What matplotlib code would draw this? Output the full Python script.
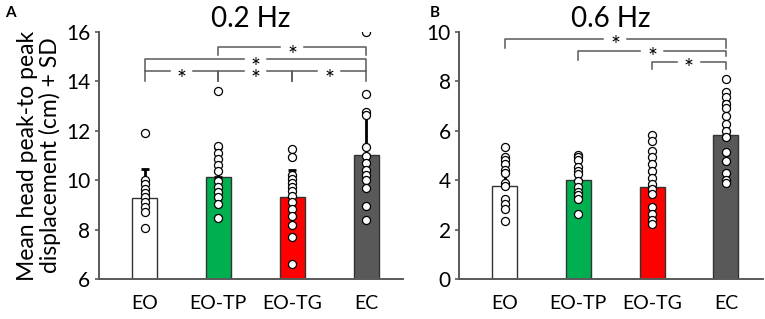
import matplotlib
matplotlib.use("Agg")
import matplotlib.pyplot as plt

plt.rcParams['font.family'] = ['Lato', 'DejaVu Sans']

groups = ["EO", "EO-TP", "EO-TG", "EC"]
colors = ["#FFFFFF", "#00B050", "#FF0000", "#595959"]

# 0.2 Hz
a_mean = [9.28, 10.14, 9.31, 11.02]
a_sd = [1.16, 1.15, 1.10, 1.60]
a_pts = [
    [11.92, 10.01, 9.85, 9.66, 9.49, 9.31, 9.13, 8.93, 8.73, 8.06],
    [13.62, 11.40, 11.09, 10.87, 10.62, 10.39, 9.96, 9.74, 9.54, 9.31, 9.04, 8.49],
    [11.27, 10.95, 10.22, 10.04, 9.88, 9.72, 9.55, 9.37, 9.13, 8.83, 8.57, 8.19, 7.70, 6.62],
    [16.0, 13.47, 12.77, 12.64, 11.35, 11.0, 10.68, 10.41, 10.2, 10.0, 9.68, 8.96, 8.38],
]
a_sig = [(0, 1, 14.41, 0.41, 0.41), (1, 2, 14.41, 0.41, 0.41), (2, 3, 14.41, 0.41, 0.41),
         (0, 3, 14.90, 0.49, 0.49), (1, 3, 15.39, 0.33, 0.33)]

# 0.6 Hz
b_mean = [3.77, 4.02, 3.73, 5.83]
b_sd = [0.93, 0.80, 0.60, 1.35]
b_pts = [
    [5.36, 4.93, 4.83, 4.64, 4.40, 4.29, 3.89, 3.75, 3.26, 3.06, 2.82, 2.36],
    [5.03, 4.93, 4.80, 4.53, 4.37, 4.26, 3.99, 3.73, 3.53, 3.39, 3.23, 2.63],
    [5.84, 5.58, 5.17, 4.93, 4.64, 4.37, 4.10, 3.86, 3.66, 3.43, 2.90, 2.65, 2.39, 2.23],
    [8.11, 7.55, 7.37, 7.08, 6.92, 6.61, 6.27, 6.01, 5.74, 5.13, 4.76, 4.29, 4.02, 3.89],
]
b_sig = [(0, 3, 9.72, 0.36, 0.36), (1, 3, 9.22, 0.36, 0.22), (2, 3, 8.79, 0.30, 0.30)]

grey = "#595959"


def panel(ax, mean, sd, pts, sig, ylim, yticks, title, letter, star_dy):
    x = range(len(groups))
    ax.bar(x, mean, width=0.34, color=colors, edgecolor="#333333", linewidth=1, zorder=2)
    ax.errorbar(x, mean, yerr=[[0] * len(sd), sd], fmt="none", ecolor="black",
                elinewidth=2, capsize=3, capthick=2, zorder=3)
    for i, p in enumerate(pts):
        ax.plot([i] * len(p), p, "o", ms=5.8, mfc="white", mec="black", mew=0.9, zorder=4)
    for x1, x2, y, ld, rd in sig:
        mid = (x1 + x2) / 2
        gap = 0.16
        ax.plot([x1, x1, mid - gap], [y - ld, y, y], color=grey, lw=1.1, zorder=1)
        ax.plot([mid + gap, x2, x2], [y, y, y - rd], color=grey, lw=1.1, zorder=1)
        ax.annotate("*", (mid, y), xytext=(0, star_dy), textcoords="offset points",
                    ha="center", va="center", fontsize=17, zorder=5)
    ax.set_xlim(-0.62, 3.5)
    ax.set_ylim(*ylim)
    ax.set_yticks(yticks)
    ax.set_xticks(list(x))
    ax.set_xticklabels(groups, fontsize=14)
    ax.tick_params(axis="x", length=0, pad=11)
    ax.tick_params(axis="y", labelsize=15, length=3, color=grey, width=1.2, pad=3)
    for s in ["top", "right"]:
        ax.spines[s].set_visible(False)
    for s in ["left", "bottom"]:
        ax.spines[s].set_color(grey)
        ax.spines[s].set_linewidth(1.4)
    ax.set_title(title, fontsize=20, pad=3)
    ax.text(letter[1], letter[2], letter[0], transform=ax.figure.transFigure,
            fontsize=11, fontweight="bold", ha="left", va="center")


fig = plt.figure(figsize=(7.65, 3.19), dpi=100)
ax1 = fig.add_axes([0.129, 0.1245, 0.398, 0.776])
ax2 = fig.add_axes([0.600, 0.1245, 0.397, 0.776])

panel(ax1, a_mean, a_sd, a_pts, a_sig, (6, 16), range(6, 17, 2), "0.2 Hz", ("A", 0.006, 0.96), -6)
panel(ax2, b_mean, b_sd, b_pts, b_sig, (0, 10), range(0, 11, 2), "0.6 Hz", ("B", 0.562, 0.96), -5)

ax1.set_ylabel("Mean head peak-to peak\ndisplacement (cm) + SD", fontsize=16.5, labelpad=4,
               linespacing=1.05)

fig.savefig("out.png", dpi=100)
